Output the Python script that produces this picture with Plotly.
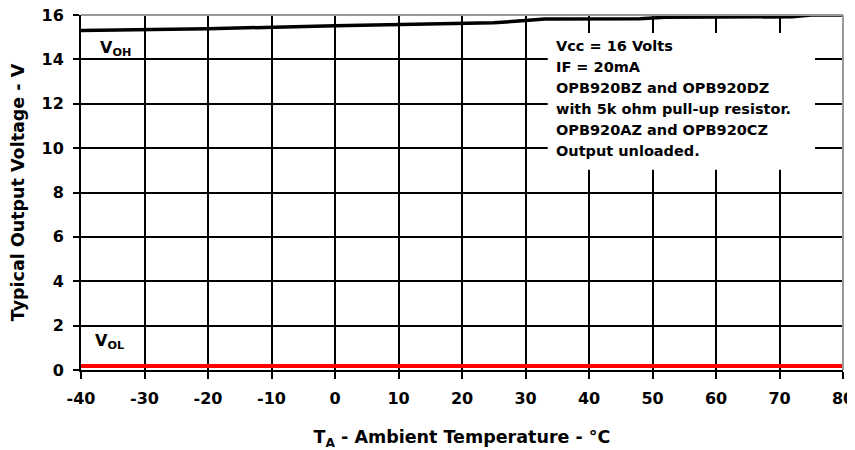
import plotly.graph_objects as go

temp_voh = [-40, -20, 0, 25, 30, 33, 48, 52, 72, 75, 80]
voh = [15.3, 15.38, 15.52, 15.65, 15.75, 15.82, 15.83, 15.9, 15.92, 16.0, 16.0]
temp_vol = [-40, 80]
vol = [0.18, 0.18]

x_ticks = [-40, -30, -20, -10, 0, 10, 20, 30, 40, 50, 60, 70, 80]
y_ticks = [0, 2, 4, 6, 8, 10, 12, 14, 16]

note_lines = ["Vcc = 16 Volts", "IF = 20mA", "OPB920BZ and OPB920DZ",
              "with 5k ohm pull-up resistor.", "OPB920AZ and OPB920CZ",
              "Output unloaded."]

F = "DejaVu Sans, sans-serif"

fig = go.Figure()
fig.add_trace(go.Scatter(x=temp_voh, y=voh, mode="lines",
                         line=dict(color="black", width=3.5), showlegend=False))
fig.add_trace(go.Scatter(x=temp_vol, y=vol, mode="lines",
                         line=dict(color="#ff0000", width=4), showlegend=False))

# white note box
fig.add_shape(type="rect", xref="x", yref="y", x0=33.5, x1=75.6, y0=9.02, y1=15.19,
              fillcolor="white", line=dict(width=0), layer="above")
for i, t in enumerate(note_lines):
    fig.add_annotation(xref="x", yref="y", x=34.5, y=14.6 - 0.95 * i,
                       xanchor="left", yanchor="middle",
                       text=t, showarrow=False, align="left",
                       font=dict(family=F, size=14.5, color="black", weight="bold"))
fig.add_annotation(xref="x", yref="y", x=-37.3, y=14.5, xanchor="left", yanchor="middle",
                   text="V<sub>OH</sub>", showarrow=False,
                   font=dict(family=F, size=16, color="black", weight="bold"))
fig.add_annotation(xref="x", yref="y", x=-38.1, y=1.3, xanchor="left", yanchor="middle",
                   text="V<sub>OL</sub>", showarrow=False,
                   font=dict(family=F, size=16, color="black", weight="bold"))

# top and right gray border
fig.add_shape(type="line", xref="paper", yref="paper", x0=0, x1=1, y0=1, y1=1,
              line=dict(color="#999999", width=2))
fig.add_shape(type="line", xref="paper", yref="paper", x0=1, x1=1, y0=0, y1=1,
              line=dict(color="#999999", width=2))

fig.update_layout(
    width=855, height=450,
    margin=dict(l=73, r=20, t=7, b=88),
    plot_bgcolor="white", paper_bgcolor="white",
    font=dict(family=F, color="black"),
    xaxis=dict(range=[-40, 80], tickvals=x_ticks, ticktext=[str(v) for v in x_ticks],
               showgrid=True, gridcolor="black", gridwidth=1.5,
               showline=True, linecolor="black", linewidth=2,
               ticks="outside", ticklen=7, tickcolor="black", tickwidth=2,
               ticklabelstandoff=6, automargin=False, ticklabeloverflow="allow",
               tickfont=dict(family=F, size=16, color="black", weight="bold"),
               zeroline=False,
               title=dict(text="T<sub>A</sub> - Ambient Temperature - °C", standoff=24,
                          font=dict(family=F, size=17.5, color="black", weight="bold"))),
    yaxis=dict(range=[0, 16], tickvals=y_ticks, ticktext=[str(v) for v in y_ticks],
               showgrid=True, gridcolor="black", gridwidth=1.5,
               showline=True, linecolor="black", linewidth=2,
               ticks="outside", ticklen=6, tickcolor="black", tickwidth=2,
               ticklabelstandoff=6, automargin=False, ticklabeloverflow="allow",
               tickfont=dict(family=F, size=16, color="black", weight="bold"),
               zeroline=False,
               title=dict(text="Typical Output Voltage - V", standoff=14,
                          font=dict(family=F, size=17.5, color="black", weight="bold"))),
)

fig.write_html("out.html")
